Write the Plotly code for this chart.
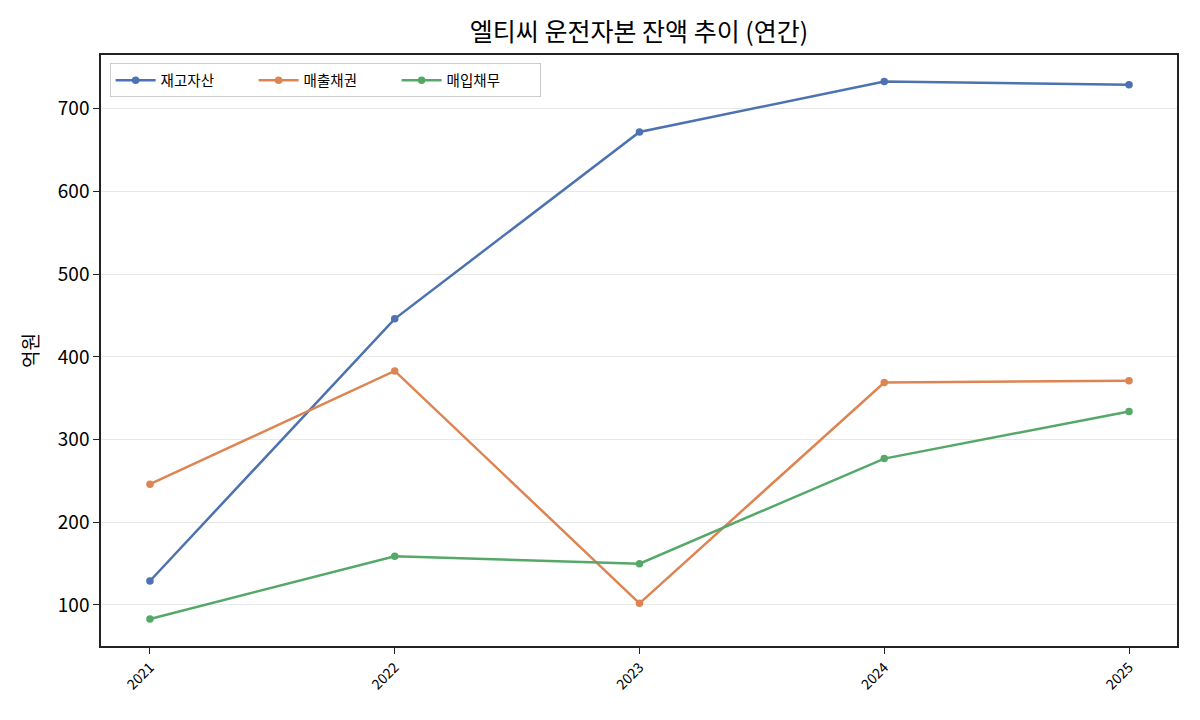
import plotly.graph_objects as go

years = [2021, 2022, 2023, 2024, 2025]
inventory = [129, 446, 672, 733, 729]
receivables = [246, 383, 102, 369, 371]
payables = [83, 159, 150, 277, 334]

series = [
    ("재고자산", inventory, "#4c72b0"),
    ("매출채권", receivables, "#dd8452"),
    ("매입채무", payables, "#55a868"),
]

font = "Noto Sans CJK KR"
fig = go.Figure()
for name, vals, col in series:
    fig.add_trace(go.Scatter(
        x=years, y=vals, name=name, mode="lines+markers",
        line=dict(color=col, width=2.5), marker=dict(size=7.5, color=col),
    ))

fig.update_layout(
    width=1200, height=720,
    margin=dict(l=93, r=31, t=47, b=82),
    paper_bgcolor="white", plot_bgcolor="white",
    font=dict(family=font, color="black"),
    title=dict(text="엘티씨 운전자본 잔액 추이 (연간)", x=0.5, xref="paper", xanchor="center",
               y=0.966, yanchor="middle", font=dict(size=25, family=font)),
    showlegend=True,
    legend=dict(orientation="h", x=0.008, y=0.986, xanchor="left", yanchor="top",
                bgcolor="rgba(255,255,255,0.8)", bordercolor="#cccccc", borderwidth=1,
                font=dict(size=14.5, family=font), itemwidth=40, entrywidth=88,
                tracegroupgap=0),
)
fig.update_xaxes(
    range=[2020.8, 2025.196], tickmode="array", tickvals=years,
    ticktext=[str(y) for y in years], tickangle=-45,
    tickfont=dict(size=14, family=font),
    showline=True, linecolor="#222222", linewidth=1.5, mirror=True,
    ticks="outside", ticklen=6, tickcolor="#222222", showgrid=False, zeroline=False,
)
fig.update_yaxes(
    range=[50.4, 765], tickmode="array", tickvals=[100, 200, 300, 400, 500, 600, 700],
    tickfont=dict(size=19, family=font),
    title=dict(text="억원", font=dict(size=19, family=font), standoff=14),
    showline=True, linecolor="#222222", linewidth=1.5, mirror=True,
    ticks="outside", ticklen=6, tickcolor="#222222",
    showgrid=True, gridcolor="#e8e8e8", gridwidth=1.2, zeroline=False,
)
fig.write_html("out.html")
